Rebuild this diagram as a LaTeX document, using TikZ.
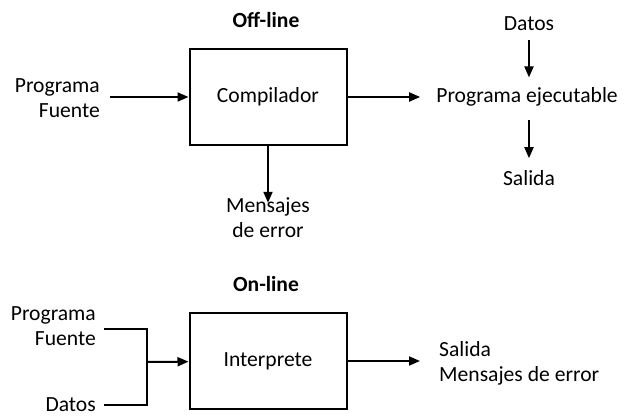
\documentclass[tikz,border=0pt]{standalone}
\usepackage{fontspec}
\setmainfont{Carlito}
\usetikzlibrary{arrows.meta}

\begin{document}
\begin{tikzpicture}[
      x=1pt, y=-1pt,
      every node/.style={font=\fontsize{21.6}{25}\selectfont},
      caja/.style={draw=black, line width=2pt, minimum width=157pt, minimum height=96pt},
      flecha/.style={line width=2pt, -{Triangle[length=11pt,width=9pt]}},
      linea/.style={line width=2pt},
      ]

      \useasboundingbox (0,0) rectangle (630,420);

      % off-line
      \node[font=\fontsize{21.6}{25}\selectfont\bfseries] (offline) at (266,20) {Off-line};
      \node[caja] (comp) at (268,97) {Compilador};
      \node[anchor=east, align=right, inner sep=0] (fuente1) at (100,98) {Programa\\Fuente};
      \node[align=center, inner sep=0] (mensajes) at (268,218) {Mensajes\\de error};
      \node[inner sep=0] (ejec) at (527,97) {Programa ejecutable};
      \node[inner sep=0] (datos1) at (529,24) {Datos};
      \node[inner sep=0] (salida1) at (529,178) {Salida};

      \draw[flecha, shorten <=10pt] (fuente1.east |- comp) -- (comp);
      \draw[flecha] (comp) -- ([yshift=-5pt]mensajes.north);
      \draw[flecha, shorten >=16pt] (comp) -- (comp -| ejec.west);
      \draw[flecha, shorten <=9pt, shorten >=10pt] (datos1) -- (datos1 |- ejec.north);
      \draw[flecha, shorten <=13pt, shorten >=12pt] (salida1 |- ejec.south) -- (salida1);

      % on-line
      \node[font=\fontsize{21.6}{25}\selectfont\bfseries] (online) at (266,284) {On-line};
      \node[caja] (interp) at (268,361) {Interprete};
      \node[anchor=east, align=right, inner sep=0] (fuente2) at (96,326) {Programa\\Fuente};
      \node[anchor=east, inner sep=0] (datos2) at (96,405) {Datos};
      \node[anchor=west, align=left, inner sep=0] (salida2) at (439,363) {Salida\\Mensajes de error};
      \coordinate (union) at (147,362);

      \draw[linea, shorten <=8pt] ([yshift=-3pt]fuente2.east) -| (union);
      \draw[linea, shorten <=8pt] (datos2.east) -| (union);
      \draw[flecha] (union) -- (interp);
      \draw[flecha, shorten >=19pt] (interp) -- (interp -| salida2.west);

    \end{tikzpicture}
\end{document}
